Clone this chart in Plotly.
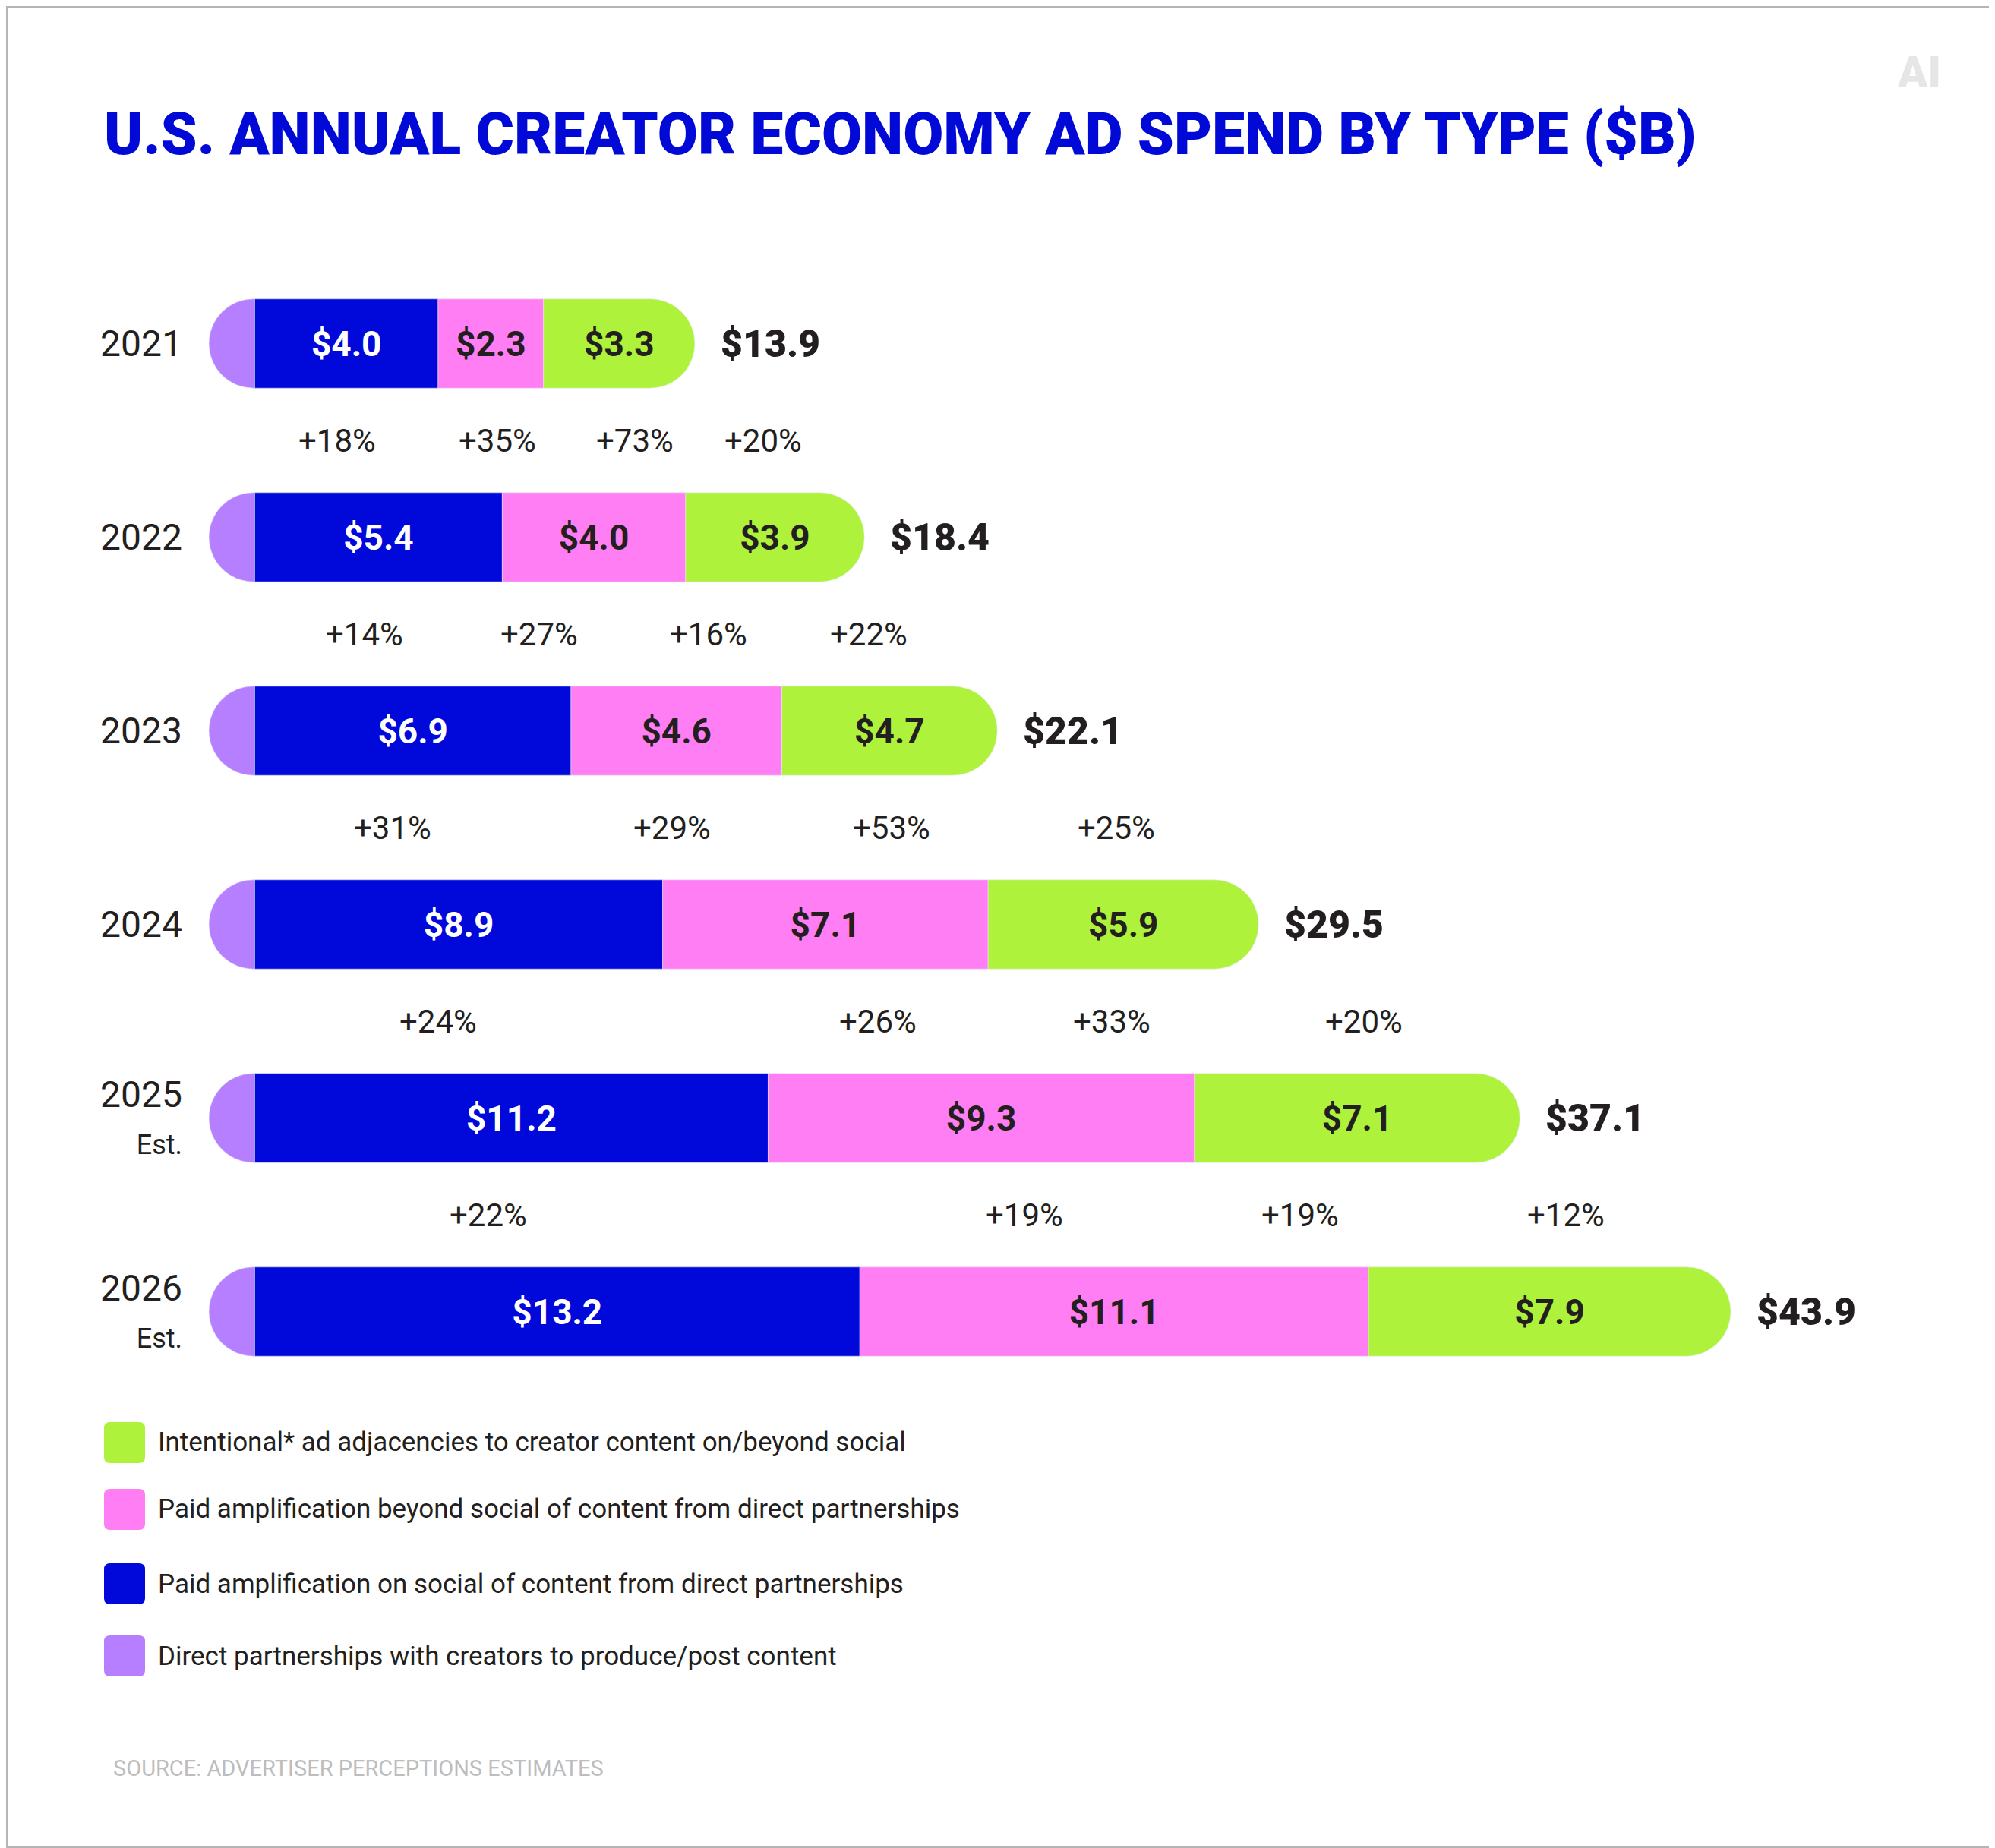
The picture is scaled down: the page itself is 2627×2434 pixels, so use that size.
import plotly.graph_objects as go

# data ($B)
years = ["2021", "2022", "2023", "2024", "2025", "2026"]
year_ticks = ["2021", "2022", "2023", "2024",
              "2025<br><span style='font-size:36px'>Est.</span>",
              "2026<br><span style='font-size:36px'>Est.</span>"]
paid_social = [4.0, 5.4, 6.9, 8.9, 11.2, 13.2]
paid_beyond = [2.3, 4.0, 4.6, 7.1, 9.3, 11.1]
adjacencies = [3.3, 3.9, 4.7, 5.9, 7.1, 7.9]
totals = [13.9, 18.4, 22.1, 29.5, 37.1, 43.9]

# growth labels between rows (direct, social, beyond, adjacencies)
growth = [
    ["+18%", "+35%", "+73%", "+20%"],
    ["+14%", "+27%", "+16%", "+22%"],
    ["+31%", "+29%", "+53%", "+25%"],
    ["+24%", "+26%", "+33%", "+20%"],
    ["+22%", "+19%", "+19%", "+12%"],
]
# where the designer put them along the x axis
growth_x = [
    [1.8, 5.3, 8.3, 11.1],
    [2.4, 6.2, 9.9, 13.4],
    [3.0, 9.1, 13.9, 18.8],
    [4.0, 13.6, 18.7, 24.2],
    [5.1, 16.8, 22.8, 28.6],
]

legend_items = [
    ("Intentional* ad adjacencies to creator content on/beyond social", "#AEF23C"),
    ("Paid amplification beyond social of content from direct partnerships", "#FF7EF3"),
    ("Paid amplification on social of content from direct partnerships", "#0009DA"),
    ("Direct partnerships with creators to produce/post content", "#B57FFF"),
]

BLUE, PINK, GREEN, PURPLE = "#0009DA", "#FF7EF3", "#AEF23C", "#B57FFF"
DARK = "#231F20"
FONT = "Roboto, Liberation Sans, sans-serif"
CAP = 1.0  # the purple segment is drawn as a fixed-width rounded cap

direct = [round(t - a - b - c, 1) for t, a, b, c in zip(totals, paid_social, paid_beyond, adjacencies)]
shown = [a + b + c for a, b, c in zip(paid_social, paid_beyond, adjacencies)]

# page body has an 8px margin, so the figure is a bit smaller than the window
OFF = 8
W, H = 2627 - OFF, 2434 - OFF
L, R, T, B = 263 - OFF, 4, 325 - OFF, 579
pw, ph = W - L - R, H - T - B


def px(x):
    return (x - OFF - L) / pw


def py(y):
    return (H - B - (y - OFF)) / ph


def f(size, color=DARK, weight=400):
    return dict(family=FONT, size=size, color=color, weight=weight)


fig = go.Figure()
# negative value so it stacks to the left of zero and gets its own rounded end
fig.add_trace(go.Bar(y=years, x=[-CAP] * len(years), orientation="h", marker_color=PURPLE,
                     customdata=direct, hovertemplate="Direct partnerships: $%{customdata:.1f}B<extra></extra>",
                     name="Direct partnerships"))
for vals, col, tcol, name in [(paid_social, BLUE, "white", "Paid social"),
                              (paid_beyond, PINK, DARK, "Paid beyond social"),
                              (adjacencies, GREEN, DARK, "Ad adjacencies")]:
    fig.add_trace(go.Bar(
        y=years, x=vals, orientation="h", name=name, marker_color=col,
        texttemplate="$%{x:.1f}", textposition="inside", insidetextanchor="middle",
        textangle=0, constraintext="none",
        textfont=f(46, tcol, 700),
        hovertemplate=name + ": $%{x:.1f}B<extra></extra>",
    ))

# totals (category axis: annotations use the row index)
for i, (s, t) in enumerate(zip(shown, totals)):
    fig.add_annotation(x=s, y=i, text=f"${t:.1f}", showarrow=False, xanchor="left", xshift=32,
                       font=f(50, DARK, 900))

# growth labels, halfway between rows
for i, (labs, xs) in enumerate(zip(growth, growth_x)):
    for lab, x in zip(labs, xs):
        fig.add_annotation(x=x, y=i + 0.5, text=lab, showarrow=False, xanchor="center", font=f(42))

# legend drawn by hand (big rounded swatches)
leg_y = [1900, 1988, 2086, 2181]
for (lab, col), yc in zip(legend_items, leg_y):
    x0, x1, y0, y1, r = 137, 191, yc - 27, yc + 27, 8
    path = (f"M {px(x0 + r)},{py(y0)} L {px(x1 - r)},{py(y0)} Q {px(x1)},{py(y0)} {px(x1)},{py(y0 + r)} "
            f"L {px(x1)},{py(y1 - r)} Q {px(x1)},{py(y1)} {px(x1 - r)},{py(y1)} "
            f"L {px(x0 + r)},{py(y1)} Q {px(x0)},{py(y1)} {px(x0)},{py(y1 - r)} "
            f"L {px(x0)},{py(y0 + r)} Q {px(x0)},{py(y0)} {px(x0 + r)},{py(y0)} Z")
    fig.add_shape(type="path", path=path, xref="paper", yref="paper", fillcolor=col, line_width=0)
    fig.add_annotation(x=px(206), y=py(yc), xref="paper", yref="paper", text=lab, showarrow=False,
                       xanchor="left", yanchor="middle", font=f(35))

fig.add_annotation(x=px(147), y=py(2329), xref="paper", yref="paper",
                   text="SOURCE: ADVERTISER PERCEPTIONS ESTIMATES", showarrow=False, xanchor="left",
                   yanchor="middle", font=f(29, "#BDBDBD"))
fig.add_annotation(x=px(2527), y=py(95), xref="paper", yref="paper", text="AI", showarrow=False,
                   xanchor="center", yanchor="middle", font=f(58, "#E6E6E6", 900))

# thin frame around the graphic
fig.add_shape(type="rect", xref="paper", yref="paper", x0=px(OFF + 1), x1=px(2626), y0=py(OFF + 1), y1=py(2433),
              line=dict(color="#B5B5B5", width=2), layer="below")

fig.update_layout(
    width=W, height=H,
    margin=dict(l=L, r=R, t=T, b=B),
    paper_bgcolor="white", plot_bgcolor="white",
    barmode="relative", bargap=0.54, barcornerradius="50%",
    showlegend=False,
    title=dict(text="U.S. ANNUAL CREATOR ECONOMY AD SPEND BY TYPE ($B)",
               x=(137 - OFF) / W, xanchor="left", xref="container",
               y=1 - (176 - OFF) / H, yanchor="middle", yref="container",
               font=f(77, "#0009D6", 900)),
    xaxis=dict(range=[-1.2, 37.9], visible=False, fixedrange=True),
    yaxis=dict(type="category", categoryorder="array", categoryarray=years,
               range=[5.5, -0.5], fixedrange=True,
               tickmode="array", tickvals=years, ticktext=year_ticks,
               showgrid=False, zeroline=False, showline=False, ticks="",
               ticklabelstandoff=22,
               tickfont=f(48)),
)

fig.write_html("out.html")
